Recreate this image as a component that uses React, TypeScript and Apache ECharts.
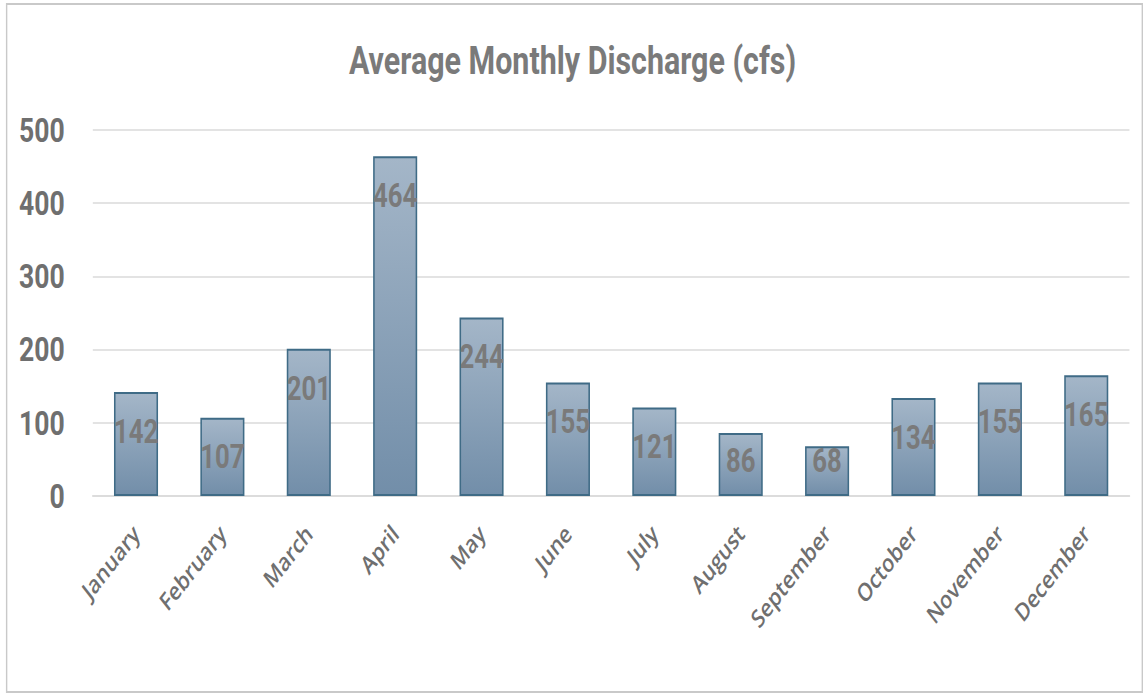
import React, { useEffect, useRef } from "react";
import * as echarts from "echarts";

const titleText = "Average Monthly Discharge (cfs)";
const months = [
  "January", "February", "March", "April", "May", "June",
  "July", "August", "September", "October", "November", "December",
];
const discharge = [142, 107, 201, 464, 244, 155, 121, 86, 68, 134, 155, 165];
const yMin = 0;
const yMax = 500;
const yStep = 100;

// The reference is horizontally compressed; render wider then squeeze.
const SQUEEZE = 0.78;
const W = 1145;
const H = 698;
const INNER_W = W / SQUEEZE;

const BOLD_FONT = "Roboto, 'Noto Sans', sans-serif";
const AXIS_FONT = "'Open Sans', 'Noto Sans', sans-serif";

export default function App() {
  const ref = useRef<HTMLDivElement>(null);

  useEffect(() => {
    if (!ref.current) return;
    const chart = echarts.init(ref.current, undefined, { renderer: "svg" });

    const data = discharge.map((v) => ({
      value: v,
      label:
        v < 100
          ? { position: "insideBottom", distance: 19 }
          : { position: "insideTop", distance: 23 },
    }));

    chart.setOption({
      animation: false,
      backgroundColor: "#ffffff",
      title: {
        text: titleText,
        left: "center",
        top: 37,
        textStyle: {
          fontFamily: BOLD_FONT,
          fontWeight: "bold",
          fontSize: 39,
          color: "#7a7a7a",
        },
      },
      graphic: [
        {
          type: "rect",
          shape: { x: 8.5, y: 4, width: 1456, height: 688 },
          style: { fill: "none", stroke: "#c9c9c9", lineWidth: 1.8 },
          silent: true,
        },
      ],
      grid: { left: 119, right: 20, top: 130, bottom: 202, containLabel: false },
      xAxis: {
        type: "category",
        data: months,
        axisLine: { show: true, lineStyle: { color: "#dcdcdc", width: 2 } },
        axisTick: { show: false },
        axisLabel: {
          rotate: 45,
          interval: 0,
          margin: 33,
          fontFamily: AXIS_FONT,
          fontWeight: 600,
          fontSize: 25,
          color: "#6f6f6f",
        },
      },
      yAxis: {
        type: "value",
        min: yMin,
        max: yMax,
        interval: yStep,
        axisLine: { show: false },
        axisTick: { show: false },
        splitLine: { show: true, lineStyle: { color: "#e3e3e3", width: 2 } },
        axisLabel: {
          margin: 36,
          fontFamily: BOLD_FONT,
          fontWeight: "bold",
          fontSize: 34,
          color: "#6f6f6f",
        },
      },
      series: [
        {
          type: "bar",
          data,
          barWidth: "51%",
          itemStyle: {
            color: new echarts.graphic.LinearGradient(0, 0, 0, 1, [
              { offset: 0, color: "#a4b6c8" },
              { offset: 1, color: "#728ea9" },
            ]),
            borderColor: "#3f6b86",
            borderWidth: 2,
          },
          label: {
            show: true,
            fontFamily: BOLD_FONT,
            fontWeight: "bold",
            fontSize: 33,
            color: "#7a7a7a",
          },
        },
      ],
    });

    return () => chart.dispose();
  }, []);

  return (
    <div
      style={{
        position: "fixed",
        left: 0,
        top: 0,
        width: W,
        height: H,
        overflow: "hidden",
        background: "#ffffff",
      }}
    >
      <div
        ref={ref}
        style={{
          width: INNER_W,
          height: H,
          transform: `scaleX(${SQUEEZE})`,
          transformOrigin: "0 0",
        }}
      />
    </div>
  );
}
